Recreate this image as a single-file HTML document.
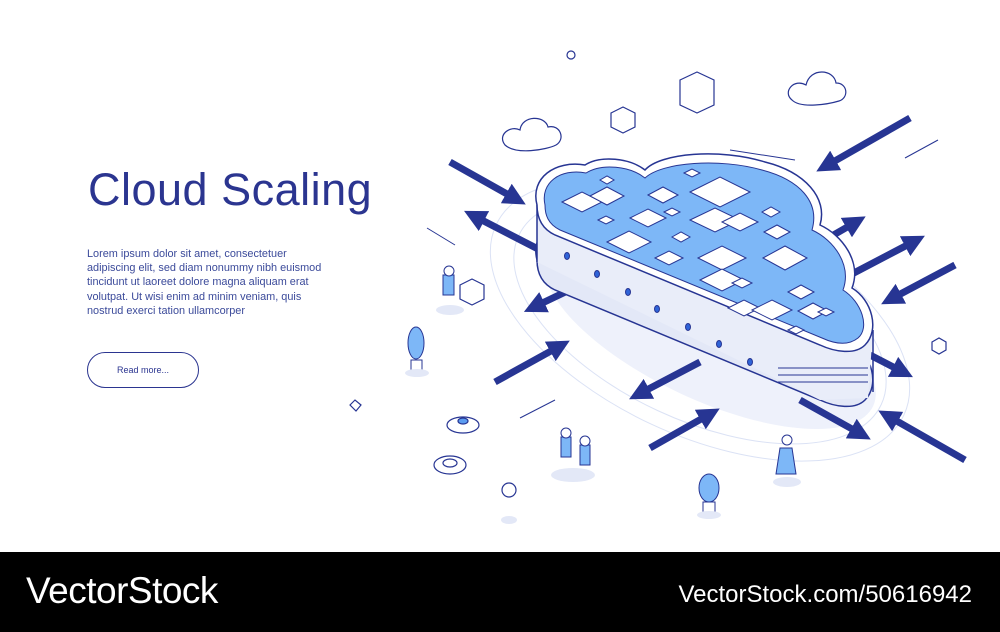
<!DOCTYPE html>
<html><head><meta charset="utf-8"><style>
html,body{margin:0;padding:0;background:#fff;}
#w{position:relative;width:1000px;height:632px;overflow:hidden;font-family:"Liberation Sans",sans-serif;}
.t{position:absolute;left:88px;top:164px;font-size:45px;color:#2b3590;letter-spacing:0.5px;}
.p{position:absolute;left:87px;top:247px;font-size:10.9px;line-height:14.2px;color:#3b4a9a;}
.b{position:absolute;left:87px;top:352px;width:110px;height:34px;border:1.5px solid #2b3590;border-radius:18px;font-size:9px;color:#2b3590;text-align:center;line-height:34px;}
.bar{position:absolute;left:0;top:552px;width:1000px;height:80px;background:#000;}
.vs{position:absolute;left:26px;top:570px;font-size:37px;color:#fff;letter-spacing:-0.5px;}
.vu{position:absolute;right:28px;top:581px;font-size:24px;color:#fff;}
</style></head><body><div id="w">
<svg width="1000" height="552" style="position:absolute;left:0;top:0">
<defs><marker id="a" markerWidth="3.2" markerHeight="3.2" refX="1.6" refY="1.6" orient="auto"><path d="M0,0 L3.2,1.6 L0,3.2 Z" fill="#273593"/></marker></defs>
<g fill="none" stroke="#dbe2f5" stroke-width="1">
<ellipse cx="700" cy="320" rx="200" ry="100" transform="rotate(25 700 320)"/><ellipse cx="700" cy="320" rx="225" ry="115" transform="rotate(25 700 320)"/>
</g>
<ellipse cx="710" cy="330" rx="180" ry="70" fill="#eef1fb" transform="rotate(25 710 330)"/>
<g stroke="#273593" stroke-width="7" marker-end="url(#a)">
<line x1="450" y1="162" x2="516" y2="199"/>
<line x1="540" y1="250" x2="474" y2="216"/>
<line x1="580" y1="285" x2="534" y2="307"/>
<line x1="495" y1="382" x2="560" y2="346"/>
<line x1="700" y1="362" x2="639" y2="394"/>
<line x1="650" y1="448" x2="710" y2="414"/>
<line x1="910" y1="118" x2="826" y2="166"/>
<line x1="830" y1="237" x2="856" y2="222"/>
<line x1="850" y1="275" x2="915" y2="241"/>
<line x1="955" y1="265" x2="891" y2="299"/>
<line x1="870" y1="355" x2="903" y2="372"/>
<line x1="800" y1="400" x2="861" y2="434"/>
<line x1="965" y1="460" x2="888" y2="416"/>
</g>
<g transform="translate(0,55)"><path d="M537,205 C530,178 555,160 585,165 C600,155 630,158 645,170 C660,153 720,148 765,162 C805,172 828,198 820,225 C842,235 862,262 852,288 C872,300 880,330 865,345 C855,355 835,352 820,345 L555,235 C540,228 537,215 537,205 Z" fill="#e3e8f7" stroke="#273593" stroke-width="1.5"/></g>
<path d="M537,205 L537,262 L820,400 L868,398 L873,330 L820,345 L555,235 Z" fill="#e9edf9" stroke="none"/>
<path d="M537,205 L537,262 M873,330 L873,392" stroke="#273593" stroke-width="1.5"/>
<path d="M537,205 C530,178 555,160 585,165 C600,155 630,158 645,170 C660,153 720,148 765,162 C805,172 828,198 820,225 C842,235 862,262 852,288 C872,300 880,330 865,345 C855,355 835,352 820,345 L555,235 C540,228 537,215 537,205 Z" fill="#fff" stroke="#273593" stroke-width="1.5"/>
<path d="M545,205 C540,183 560,168 586,173 C602,163 630,166 645,178 C662,162 720,158 762,170 C800,180 820,202 812,230 C834,240 852,265 843,290 C862,302 870,328 858,338 C848,346 835,344 822,338 L560,230 C548,224 545,215 545,205 Z" fill="#7db7f7" stroke="#273593" stroke-width="1"/>
<g fill="#2f64d8" stroke="#273593" stroke-width="1">
<ellipse cx="567" cy="256" rx="2.5" ry="3.5"/><ellipse cx="597" cy="274" rx="2.5" ry="3.5"/><ellipse cx="628" cy="292" rx="2.5" ry="3.5"/><ellipse cx="657" cy="309" rx="2.5" ry="3.5"/><ellipse cx="688" cy="327" rx="2.5" ry="3.5"/><ellipse cx="719" cy="344" rx="2.5" ry="3.5"/><ellipse cx="750" cy="362" rx="2.5" ry="3.5"/>
</g>
<g stroke="#273593" stroke-width="1" fill="none"><path d="M778,368 L868,368 M778,375 L868,375 M778,382 L868,382"/></g>
<g fill="#fff" stroke="#273593" stroke-width="1">
<path d="M562,202 l20,-10 l20,10 l-20,10z"/><path d="M590,196 l17,-9 l17,9 l-17,9z"/><path d="M648,195 l15,-8 l15,8 l-15,8z"/><path d="M630,218 l18,-9 l18,9 l-18,9z"/>
<path d="M690,192 l30,-15 l30,15 l-30,15z"/><path d="M690,220 l25,-12 l25,12 l-25,12z"/><path d="M722,222 l18,-9 l18,9 l-18,9z"/>
<path d="M607,242 l22,-11 l22,11 l-22,11z"/><path d="M655,258 l14,-7 l14,7 l-14,7z"/><path d="M698,258 l24,-12 l24,12 l-24,12z"/><path d="M700,280 l22,-11 l22,11 l-22,11z"/>
<path d="M763,258 l22,-12 l22,12 l-22,12z"/><path d="M764,232 l13,-7 l13,7 l-13,7z"/><path d="M762,212 l9,-5 l9,5 l-9,5z"/><path d="M598,220 l8,-4 l8,4 l-8,4z"/><path d="M600,180 l7,-4 l7,4 l-7,4z"/><path d="M684,173 l8,-4 l8,4 l-8,4z"/><path d="M672,237 l9,-5 l9,5 l-9,5z"/><path d="M664,212 l8,-4 l8,4 l-8,4z"/>
<path d="M788,292 l13,-7 l13,7 l-13,7z"/><path d="M798,311 l15,-8 l15,8 l-15,8z"/><path d="M728,308 l16,-8 l16,8 l-16,8z"/><path d="M752,310 l20,-10 l20,10 l-20,10z"/><path d="M818,312 l8,-4 l8,4 l-8,4z"/><path d="M788,330 l8,-4 l8,4 l-8,4z"/><path d="M732,283 l10,-5 l10,5 l-10,5z"/>
</g>
<g fill="#fff" stroke="#273593" stroke-width="1.2">
<path d="M505,145 c-8,-10 5,-20 15,-15 c2,-15 25,-15 28,-3 c12,-3 18,12 8,18 c-10,5 -40,10 -51,0z"/>
<path d="M792,100 c-10,-8 2,-22 14,-15 c4,-18 28,-16 30,-2 c12,0 13,15 3,18 c-10,3 -38,8 -47,-1z"/>
<path d="M611,113 l12,-6 l12,6 l0,14 l-12,6 l-12,-6z"/><path d="M680,80 l17,-8 l17,8 l0,25 l-17,8 l-17,-8z"/>
<circle cx="571" cy="55" r="4"/><circle cx="509" cy="490" r="7"/>
<path d="M350,405 l5,-5 l6,5 l-5,6z"/><path d="M932,342 l7,-4 l7,4 l0,8 l-7,4 l-7,-4z"/>
<ellipse cx="463" cy="425" rx="16" ry="8"/><ellipse cx="463" cy="421" rx="5" ry="3" fill="#5b9cf0"/>
<ellipse cx="450" cy="465" rx="16" ry="9"/><ellipse cx="450" cy="463" rx="7" ry="4"/>
<path d="M460,285 l12,-6 l12,6 l0,14 l-12,6 l-12,-6z"/>
</g>
<g fill="#7db7f7" stroke="#273593" stroke-width="1">
<ellipse cx="416" cy="343" rx="8" ry="16"/><rect x="411" y="360" width="11" height="12" fill="#fff"/>
<ellipse cx="709" cy="488" rx="10" ry="14"/><rect x="703" y="502" width="12" height="12" fill="#fff"/>
<rect x="443" y="275" width="11" height="20"/><circle cx="449" cy="271" r="5" fill="#fff"/>
<rect x="561" y="437" width="10" height="20"/><circle cx="566" cy="433" r="5" fill="#fff"/>
<rect x="580" y="445" width="10" height="20"/><circle cx="585" cy="441" r="5" fill="#fff"/>
<path d="M780,448 l12,0 l4,26 l-20,0z"/><circle cx="787" cy="440" r="5" fill="#fff"/>
</g>
<g fill="#e3e8f7"><ellipse cx="450" cy="310" rx="14" ry="5"/><ellipse cx="573" cy="475" rx="22" ry="7"/><ellipse cx="787" cy="482" rx="14" ry="5"/><ellipse cx="509" cy="520" rx="8" ry="4"/><ellipse cx="417" cy="373" rx="12" ry="4"/><ellipse cx="709" cy="515" rx="12" ry="4"/></g>
<g stroke="#273593" stroke-width="1"><line x1="427" y1="228" x2="455" y2="245"/><line x1="905" y1="158" x2="938" y2="140"/><line x1="520" y1="418" x2="555" y2="400"/><line x1="730" y1="150" x2="795" y2="160"/></g>
</svg>
<div class="t">Cloud Scaling</div>
<div class="p">Lorem ipsum dolor sit amet, consectetuer<br>adipiscing elit, sed diam nonummy nibh euismod<br>tincidunt ut laoreet dolore magna aliquam erat<br>volutpat. Ut wisi enim ad minim veniam, quis<br>nostrud exerci tation ullamcorper</div>
<div class="b">Read more...</div>
<div class="bar"></div>
<div class="vs">VectorStock</div>
<div class="vu">VectorStock.com/50616942</div>
</div></body></html>
